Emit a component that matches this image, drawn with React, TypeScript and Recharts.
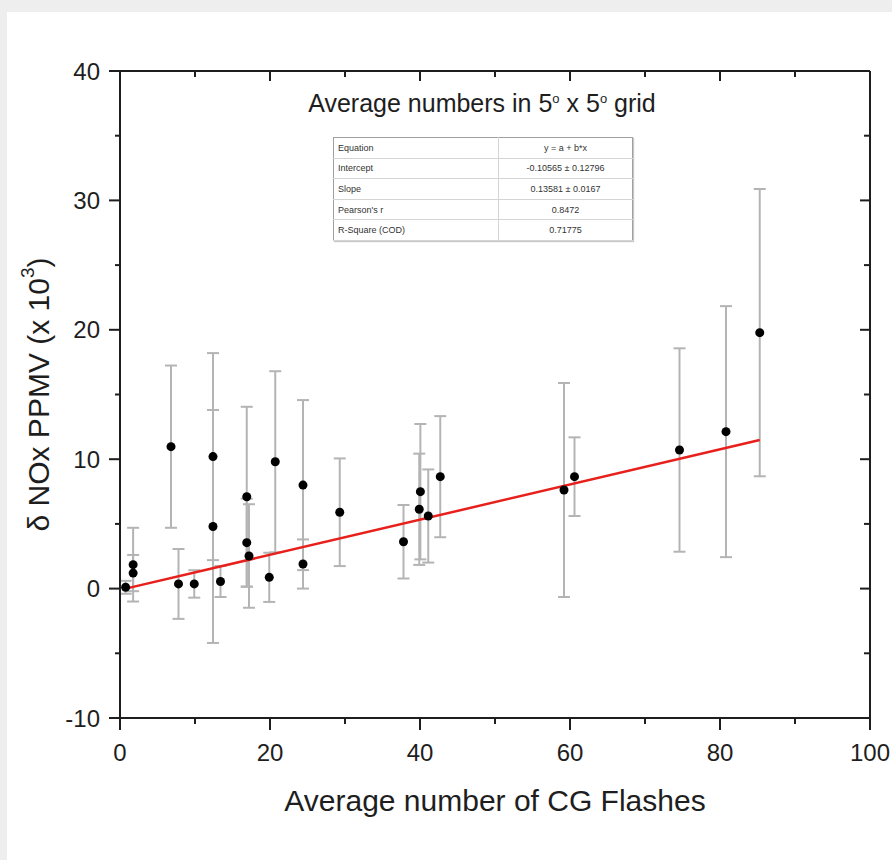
import { ErrorBar, ReferenceLine, Scatter, ScatterChart, XAxis, YAxis } from 'recharts'

// Average number of CG flashes per 5x5 deg cell vs delta NOx (x10^3 ppmv)
const flashes = [0.75, 1.75, 1.75, 6.8, 7.8, 9.9, 12.4, 12.4, 13.4, 16.9, 16.9, 17.2, 20.7, 19.9, 24.4, 24.4, 29.3, 37.8, 40.05, 39.9, 41.1, 42.7, 59.2, 60.6, 74.6, 80.8, 85.3]
const nox = [0.1, 1.85, 1.2, 10.97, 0.36, 0.36, 10.2, 4.8, 0.55, 7.1, 3.55, 2.52, 9.8, 0.87, 8.0, 1.9, 5.9, 3.62, 7.49, 6.13, 5.61, 8.65, 7.62, 8.65, 10.71, 12.13, 19.78]
const noxErr = [0.5, 2.85, 1.4, 6.27, 2.7, 1.06, 8.0, 9.0, 1.2, 6.95, 3.4, 4.0, 7.0, 1.9, 6.57, 1.9, 4.16, 2.84, 5.23, 4.3, 3.6, 4.68, 8.27, 3.04, 7.86, 9.7, 11.1]

const xTicks = [0, 10, 20, 30, 40, 50, 60, 70, 80, 90, 100]
const yTicks = [-10, -5, 0, 5, 10, 15, 20, 25, 30, 35, 40]

const INTERCEPT = -0.10565
const SLOPE = 0.13581

const fitRows = [
  ['Equation', 'y = a + b*x'],
  ['Intercept', '-0.10565 ± 0.12796'],
  ['Slope', '0.13581 ± 0.0167'],
  ["Pearson's r", '0.8472'],
  ['R-Square (COD)', '0.71775'],
]

const data = flashes.map((f, i) => ({ flashes: f, nox: nox[i], err: noxErr[i] }))
const fitX0 = Math.min(...flashes)
const fitX1 = Math.max(...flashes)

const FONT = '"Liberation Sans", Arial, sans-serif'
const INK = '#1e1e1e'

function BottomTick({ x, y, payload }: any) {
  const major = payload.value % 20 === 0
  return (
    <g>
      <line x1={x} x2={x} y1={y} y2={y + (major ? 12 : 6)} stroke={INK} strokeWidth={2} />
      {major && (
        <text x={x} y={y + 43} textAnchor="middle" fontSize={24} fill={INK} fontFamily={FONT}>
          {payload.value}
        </text>
      )}
    </g>
  )
}

function TopTick({ x, y, payload }: any) {
  const major = payload.value % 20 === 0
  return <line x1={x} x2={x} y1={y} y2={y + (major ? 10 : 6)} stroke={INK} strokeWidth={2} />
}

function LeftTick({ x, y, payload }: any) {
  const major = payload.value % 10 === 0
  return (
    <g>
      <line x1={x - (major ? 11 : 5)} x2={x} y1={y} y2={y} stroke={INK} strokeWidth={2} />
      {major && (
        <text x={x - 20} y={y + 8.5} textAnchor="end" fontSize={24} fill={INK} fontFamily={FONT}>
          {payload.value}
        </text>
      )}
    </g>
  )
}

function RightTick({ x, y, payload }: any) {
  const major = payload.value % 10 === 0
  return <line x1={x - (major ? 10 : 6)} x2={x} y1={y} y2={y} stroke={INK} strokeWidth={2} />
}

function YLabel({ viewBox }: any) {
  const cy = viewBox.y + viewBox.height / 2
  const cx = 38
  return (
    <text
      x={cx}
      y={cy}
      transform={`rotate(-90, ${cx}, ${cy})`}
      textAnchor="middle"
      dominantBaseline="central"
      fontSize={30}
      fill={INK}
      fontFamily={FONT}
    >
      δ NOx PPMV (x 10
      <tspan dy={-11} fontSize={19}>3</tspan>
      <tspan dy={11}>)</tspan>
    </text>
  )
}

function XLabel({ viewBox }: any) {
  return (
    <text
      x={viewBox.x + viewBox.width / 2}
      y={viewBox.y + 93}
      textAnchor="middle"
      fontSize={30}
      fill={INK}
      fontFamily={FONT}
    >
      Average number of CG Flashes
    </text>
  )
}

const Dot = (p: any) => <circle cx={p.cx} cy={p.cy} r={4.5} fill="#000" />
const Nothing = () => <g />

export default function App() {
  return (
    <div style={{ position: 'absolute', left: 0, top: 0, width: 892, height: 860, background: '#eeeeee', overflow: 'hidden' }}>
      <div style={{ position: 'absolute', left: 7, top: 12, right: 0, bottom: 0, background: '#fff' }} />
      <div style={{ position: 'absolute', left: 0, top: 0 }}>
        <ScatterChart width={892} height={860} margin={{ top: 70, right: 21, bottom: 0, left: 0 }}>
          <XAxis
            dataKey="flashes"
            type="number"
            domain={[0, 100]}
            ticks={xTicks}
            interval={0}
            allowDataOverflow
            height={142}
            tickSize={0}
            tickMargin={0}
            tickLine={false}
            tick={<BottomTick />}
            axisLine={{ stroke: INK, strokeWidth: 2 }}
            label={<XLabel />}
          />
          <XAxis
            xAxisId="top"
            orientation="top"
            dataKey="flashes"
            type="number"
            domain={[0, 100]}
            ticks={xTicks}
            interval={0}
            allowDataOverflow
            height={1}
            tickSize={0}
            tickMargin={0}
            tickLine={false}
            tick={<TopTick />}
            axisLine={{ stroke: INK, strokeWidth: 2 }}
          />
          <YAxis
            dataKey="nox"
            type="number"
            domain={[-10, 40]}
            ticks={yTicks}
            interval={0}
            allowDataOverflow
            width={120}
            tickSize={0}
            tickMargin={0}
            tickLine={false}
            tick={<LeftTick />}
            axisLine={{ stroke: INK, strokeWidth: 2 }}
            label={<YLabel />}
          />
          <YAxis
            yAxisId="right"
            orientation="right"
            dataKey="nox"
            type="number"
            domain={[-10, 40]}
            ticks={yTicks}
            interval={0}
            allowDataOverflow
            width={1}
            tickSize={0}
            tickMargin={0}
            tickLine={false}
            tick={<RightTick />}
            axisLine={{ stroke: INK, strokeWidth: 2 }}
          />
          {/* invisible series so the mirrored frame axes get their data */}
          <Scatter
            data={data}
            dataKey="nox"
            xAxisId="top"
            yAxisId="right"
            shape={Nothing}
            legendType="none"
            isAnimationActive={false}
          />
          <Scatter data={data} dataKey="nox" shape={Dot} isAnimationActive={false}>
            <ErrorBar dataKey="err" direction="y" width={6} stroke="#b4b4b4" strokeWidth={2} isAnimationActive={false} />
          </Scatter>
          <ReferenceLine
            segment={[
              { x: fitX0, y: INTERCEPT + SLOPE * fitX0 },
              { x: fitX1, y: INTERCEPT + SLOPE * fitX1 },
            ]}
            stroke="#e8201c"
            strokeWidth={2.5}
          />
        </ScatterChart>
      </div>
      <div
        style={{
          position: 'absolute',
          left: 282,
          top: 91,
          width: 400,
          textAlign: 'center',
          fontFamily: FONT,
          fontSize: 25,
          lineHeight: 1,
          color: INK,
        }}
      >
        Average numbers in 5<span style={{ fontSize: 13, verticalAlign: 9, lineHeight: 0 }}>o</span> x 5
        <span style={{ fontSize: 13, verticalAlign: 9, lineHeight: 0 }}>o</span> grid
      </div>
      <table
        style={{
          position: 'absolute',
          left: 333,
          top: 137,
          width: 300,
          height: 103,
          borderCollapse: 'collapse',
          border: '1px solid #a0a0a0',
          boxShadow: '1px 1px 1px #c8c8c8',
          fontFamily: FONT,
          fontSize: 9,
          color: '#333',
          background: '#fff',
        }}
      >
        <tbody>
          {fitRows.map(([k, v]) => (
            <tr key={k} style={{ height: 20.6 }}>
              <td style={{ width: 160, padding: '0 0 0 4px', borderBottom: '1px solid #d4d4d4', borderRight: '1px solid #d4d4d4' }}>{k}</td>
              <td style={{ textAlign: 'center', padding: 0, borderBottom: '1px solid #d4d4d4' }}>{v}</td>
            </tr>
          ))}
        </tbody>
      </table>
    </div>
  )
}
